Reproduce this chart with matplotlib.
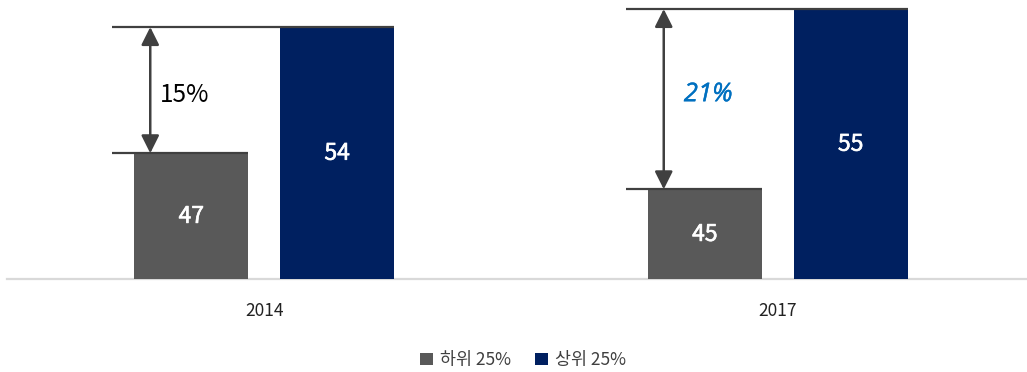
import matplotlib
matplotlib.use("Agg")
import matplotlib.pyplot as plt
import matplotlib.patheffects as pe
from matplotlib.patches import Patch

plt.rcParams['font.family'] = ['Noto Sans CJK KR', 'DejaVu Sans']

# Data
years = ["2014", "2017"]
bottom25 = [47, 45]
top25 = [54, 55]
gap_labels = ["15%", "21%"]
series_names = ["하위 25%", "상위 25%"]

GRAY = "#595959"
NAVY = "#002060"
LINE = "#404040"

fig = plt.figure(figsize=(10.27, 3.72), dpi=100)
ax = fig.add_axes([0.0073, 0.2487, 1.0, 0.7513])
ax.set_xlim(-0.5, 1.5)
ax.set_ylim(40, 55.5)

x = list(range(len(years)))
w = 0.222
off = 0.142
ax.bar([i - off for i in x], bottom25, width=w, color=GRAY, zorder=2)
ax.bar([i + off for i in x], top25, width=w, color=NAVY, zorder=2)

# white value labels, slightly heavier than the regular weight
value_font = dict(color="white", ha="center", va="center", fontsize=16.5,
                  zorder=3,
                  path_effects=[pe.withStroke(linewidth=0.45, foreground="white")])
for i in x:
    ax.text(i - off, (40 + bottom25[i]) / 2, str(bottom25[i]), **value_font)
    ax.text(i + off, (40 + top25[i]) / 2, str(top25[i]), **value_font)

    # reference lines at the top of each bar
    xl = i - 0.296
    ax.plot([xl, i + off + w / 2], [top25[i], top25[i]], color=LINE, lw=1.6,
            zorder=3, solid_capstyle="butt")
    ax.plot([xl, i - off + w / 2], [bottom25[i], bottom25[i]], color=LINE, lw=1.6,
            zorder=3, solid_capstyle="butt")

    # double-headed arrow showing the gap
    ax.annotate("", xy=(i - 0.222, top25[i]), xytext=(i - 0.222, bottom25[i]),
                arrowprops=dict(arrowstyle="<|-|>,head_length=0.6,head_width=0.3",
                                color=LINE, lw=1.8, mutation_scale=18,
                                shrinkA=0, shrinkB=0),
                zorder=4)

ymid = 50.25
ax.text(-0.203, ymid, gap_labels[0], color="black", fontsize=17.5,
        ha="left", va="center")
ax.text(1 - 0.183, ymid, gap_labels[1], color="#0070C0", fontsize=18.5,
        fontstyle="italic", family=["Open Sans", "DejaVu Sans"],
        ha="left", va="center",
        path_effects=[pe.withStroke(linewidth=0.3, foreground="#0070C0")])

for s in ["top", "right", "left"]:
    ax.spines[s].set_visible(False)
ax.spines["bottom"].set_color("#D9D9D9")
ax.spines["bottom"].set_linewidth(1.6)
ax.spines["bottom"].set_zorder(1)
ax.set_yticks([])
ax.set_xticks(x)
ax.set_xticklabels(years, fontsize=12.5, color="#222222")
ax.tick_params(axis="x", length=0, pad=16)

handles = [Patch(facecolor=GRAY), Patch(facecolor=NAVY)]
fig.legend(handles, series_names, loc="center", bbox_to_anchor=(0.509, 0.032),
           ncol=2, frameon=False, fontsize=12.5, handlelength=0.75,
           handleheight=0.75, handletextpad=0.4, columnspacing=1.4,
           labelcolor="#404040")

fig.savefig("out.png", dpi=100)
